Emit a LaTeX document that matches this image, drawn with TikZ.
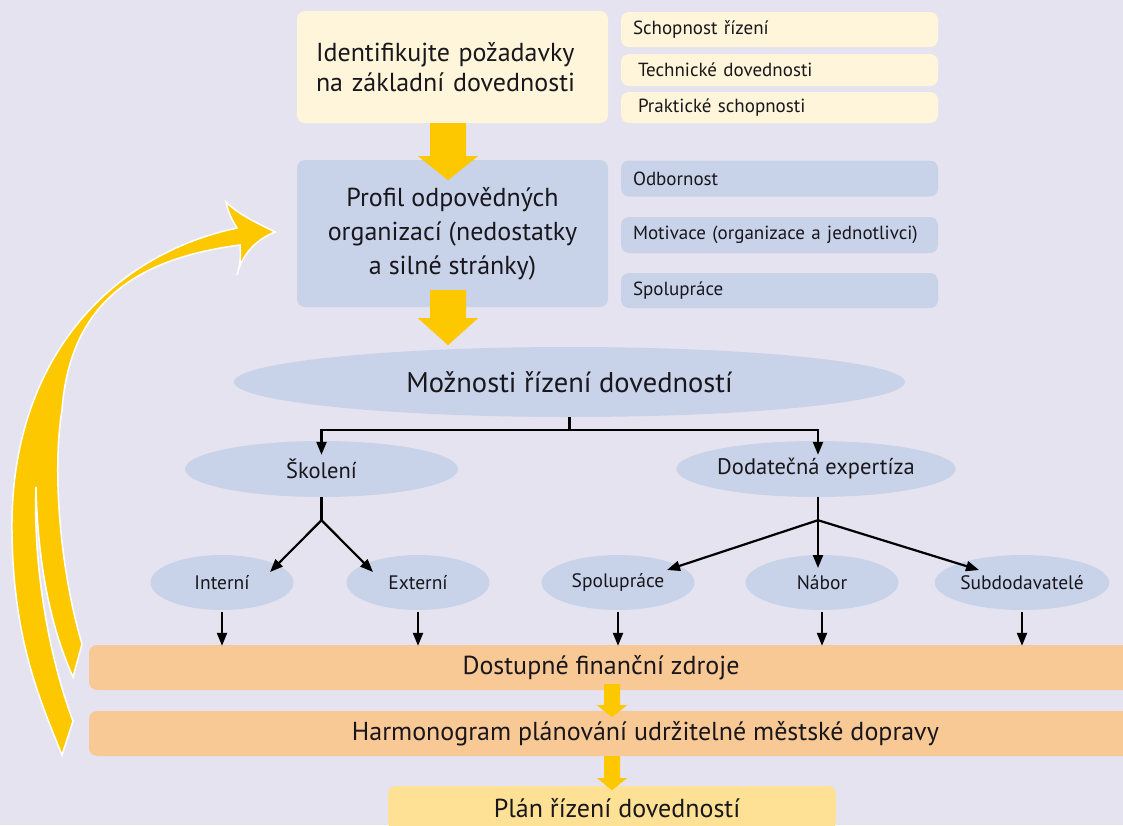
\documentclass[tikz,border=0pt]{standalone}
\usepackage{fontspec}
\setmainfont{PT Sans}
\usetikzlibrary{arrows.meta,shapes.geometric}
\definecolor{bg}{RGB}{230,227,240}
\definecolor{cream}{RGB}{254,245,218}
\definecolor{blu}{RGB}{200,211,233}
\definecolor{orng}{RGB}{248,201,149}
\definecolor{yel}{RGB}{253,200,0}
\definecolor{lyel}{RGB}{254,225,148}
\definecolor{txt}{RGB}{25,22,28}
\tikzset{
  box/.style={rounded corners=8pt, inner sep=0pt, text=txt},
  sidebox/.style={box, minimum width=317pt, text width=293pt, align=left, font=\fontsize{19}{22}\selectfont},
  ell/.style={ellipse, fill=blu, inner sep=0pt, text=txt},
  bar/.style={box, fill=orng, minimum width=1046pt, minimum height=45pt, font=\fontsize{26}{30}\selectfont},
  smallell/.style={ell, minimum height=55pt, font=\fontsize{19.5}{23}\selectfont},
  conn/.style={line width=2.2pt, black},
  arr/.style={conn, -{Triangle[length=13pt,width=10pt]}},
  blockarrow/.style={fill=yel},
}
\begin{document}
\begin{tikzpicture}[x=1pt,y=-1pt]
\useasboundingbox (0,0) rectangle (1123,825);
\clip (0,0) rectangle (1123,825);
\fill[bg] (0,0) rectangle (1123,825);

% top box
\node[box, fill=cream, minimum width=311pt, minimum height=112pt, text width=273pt, align=left,
  font=\fontsize{26}{30}\selectfont] (ident) at (452.5,67) {Identifikujte požadavky\\na základní dovednosti};
\node[sidebox, fill=cream, minimum height=35pt] (s1) at (779.5,29.5) {Schopnost řízení};
\node[sidebox, fill=cream, minimum height=32pt] (s2) at (779.5,70) {\hspace*{5pt}Technické dovednosti};
\node[sidebox, fill=cream, minimum height=31pt] (s3) at (779.5,107.5) {\hspace*{5pt}Praktické schopnosti};

% profile box
\node[box, fill=blu, minimum width=311pt, minimum height=147pt, align=center,
  font=\fontsize{26}{34}\selectfont] (prof) at (452.5,233.5) {Profil odpovědných\\organizací (nedostatky\\a silné stránky)};
\node[sidebox, fill=blu, minimum height=36pt] (b1) at (779.5,178.5) {Odbornost};
\node[sidebox, fill=blu, minimum height=36pt] (b2) at (779.5,235) {Motivace (organizace a jednotlivci)};
\node[sidebox, fill=blu, minimum height=35pt] (b3) at (779.5,290.5) {Spolupráce};

% yellow block arrows
\fill[blockarrow] ([xshift=-22.5pt]ident.south) -- ++(0,33) -- ++(-12,0) -- ++(30,24) -- ++(30,-24) -- ++(-12,0) -- ++(0,-33) -- cycle;

% options ellipse
\node[ell, minimum width=671pt, minimum height=70pt, font=\fontsize{28.5}{32}\selectfont] (opt) at (569.5,382) {Možnosti řízení dovedností};
\fill[blockarrow] ([xshift=-22.5pt,yshift=17pt]prof.south) -- ++(0,28) -- ++(-12,0) -- ++(30,27) -- ++(30,-27) -- ++(-12,0) -- ++(0,-28) -- cycle;

\node[ell, minimum width=273pt, minimum height=56pt, font=\fontsize{22.5}{26}\selectfont] (sk) at (321.5,469) {Školení};
\node[ell, minimum width=274pt, minimum height=56pt, font=\fontsize{22.5}{26}\selectfont] (dod) at (816,469) {Dodatečná expertíza};

\node[smallell, minimum width=143pt] (int) at (222,582.5) {Interní};
\node[smallell, minimum width=143pt] (ext) at (418,582.5) {Externí};
\node[smallell, minimum width=153pt] (spo) at (618,582.5) {Spolupráce};
\node[smallell, minimum width=153pt] (nab) at (822,582.5) {Nábor};
\node[smallell, minimum width=143pt] (sub) at (1022,582.5) {Subdodavatelé};

% tree connectors
\draw[conn] (opt.south) -- ++(0,13) coordinate (j1);
\draw[arr] (j1) -| ([yshift=-14pt]sk.north);
\draw[arr] (j1) -| ([xshift=2pt,yshift=-14pt]dod.north);
\draw[conn] (sk.south) -- ++(0,23) coordinate (f1);
\draw[arr] (f1) -- ([xshift=48pt,yshift=10.5pt]int.center);
\draw[arr] (f1) -- ([xshift=-45pt,yshift=10.5pt]ext.center);
\draw[conn] ([xshift=2pt]dod.south) -- ++(0,23) coordinate (f2);
\draw[arr] (f2) -- ([xshift=49pt,yshift=12.5pt]spo.center);
\draw[arr] (f2) -- ([xshift=-4pt,yshift=14.5pt]nab.center);
\draw[arr] (f2) -- ([xshift=-43pt,yshift=12.5pt]sub.center);

% bars
\node[bar] (fin) at (612,667.5) {\hspace*{-22pt}Dostupné finanční zdroje};
\node[bar] (harm) at (612,733.5) {\hspace*{67pt}Harmonogram plánování udržitelné městské dopravy};
\node[box, fill=lyel, minimum width=448pt, minimum height=44pt, font=\fontsize{26}{30}\selectfont] (plan) at (612,808) {\hspace*{10pt}Plán řízení dovedností};

\foreach \n in {int,ext,spo,nab,sub}
  \draw[arr] ([yshift=-2pt]\n.south) -- ([yshift=-1pt]\n.south |- fin.north);

\fill[blockarrow] ([xshift=-8pt,yshift=6pt]fin.south) -- ++(0,21) -- ++(-7,0) -- ++(15,12) -- ++(15,-12) -- ++(-7,0) -- ++(0,-21) -- cycle;
\fill[blockarrow] ([xshift=-8pt]harm.south) -- ++(0,22) -- ++(-7,0) -- ++(15,12) -- ++(15,-12) -- ++(-7,0) -- ++(0,-22) -- cycle;

% big feedback arrow
\filldraw[fill=yel, draw=white, line width=1.5pt]
  (237,228) .. controls (110,255) and (10,360) .. (12,531)
  .. controls (13,640) and (40,700) .. (62,755)
  -- (73,721)
  .. controls (50,660) and (33,570) .. (36,487)
  .. controls (38,570) and (52,630) .. (73,677)
  -- (82,644)
  .. controls (60,570) and (52,470) .. (62,410)
  .. controls (70,300) and (140,258) .. (240,245)
  .. controls (241,258) and (240,266) .. (237,275)
  .. controls (242,255) and (255,240) .. (275,232)
  .. controls (255,222) and (238,214) .. (226,202)
  .. controls (228,212) and (232,220) .. (237,228) -- cycle;
\end{tikzpicture}
\end{document}
